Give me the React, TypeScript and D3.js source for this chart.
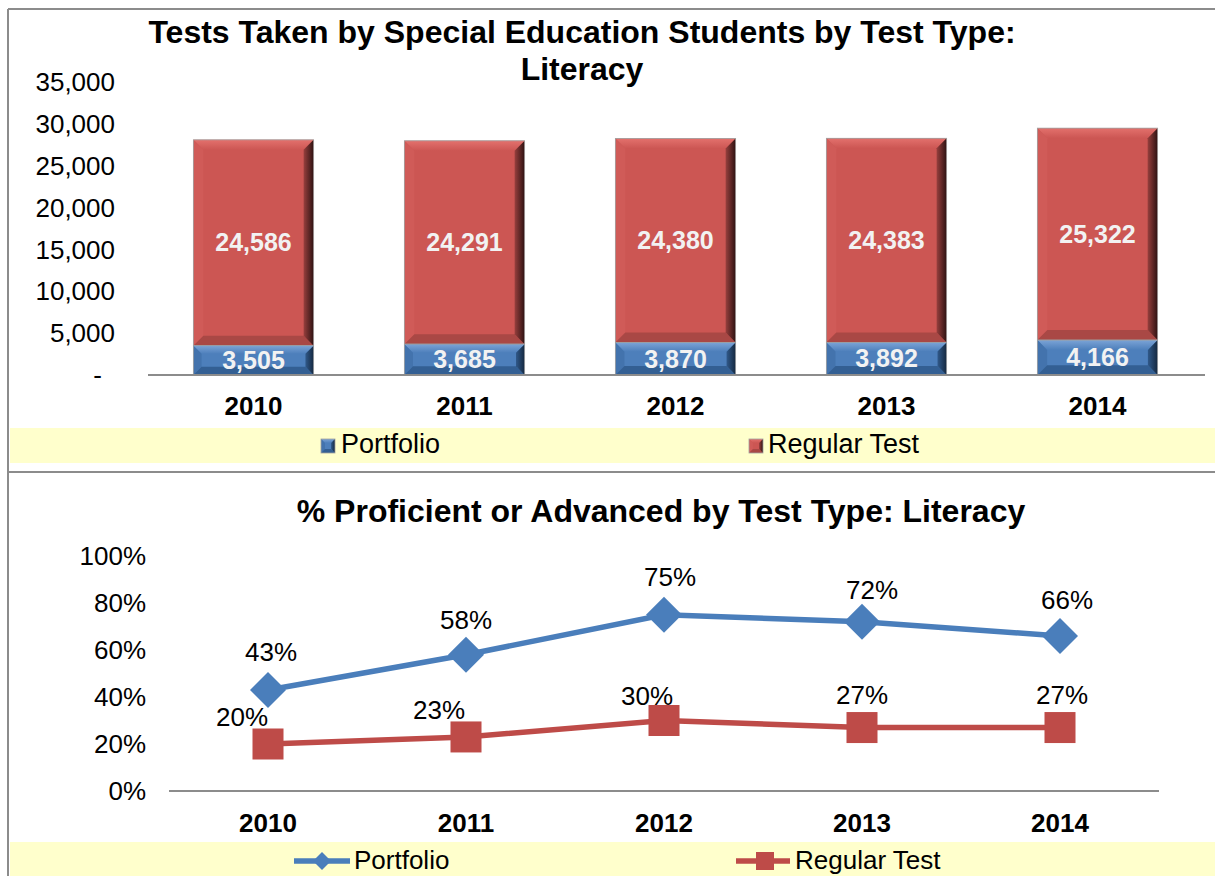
import React from 'react';
import * as d3 from 'd3';

// chart data
const years = ['2010', '2011', '2012', '2013', '2014'];
const portfolioCounts = [3505, 3685, 3870, 3892, 4166];
const regularCounts = [24586, 24291, 24380, 24383, 25322];
const countTicks = [0, 5000, 10000, 15000, 20000, 25000, 30000, 35000];

const portfolioPct = [43, 58, 75, 72, 66];
const regularPct = [20, 23, 30, 27, 27];
const pctTicks = [0, 20, 40, 60, 80, 100];

const FONT = '"Liberation Sans", Arial, sans-serif';
const GRID = '#8c8c8c';

// label nudges (px) so the percent labels sit where Excel put them
const portNudgeX = [3, 0, 6, 10, 7];
const portNudgeY = [-38, -35, -38, -32, -36];
const regNudgeX = [-26, -27, -17, 0, 2];
const regNudgeY = [-27, -27, -25, -33, -33];

const fmt = d3.format(',');

type BevelColors = { base: string; top: string; left: string; bottom: string; r1: string; r2: string };
const redBevel: BevelColors = { base: '#cc5653', top: '#e3716d', left: '#d05b58', bottom: '#a94845', r1: '#973f3d', r2: '#2e1212' };
const blueBevel: BevelColors = { base: '#4d7fbb', top: '#7ba3d6', left: '#4373ad', bottom: '#335f93', r1: '#30598a', r2: '#15283f' };

const BevelRect = ({ x, y, w, h, c, id }: { x: number; y: number; w: number; h: number; c: BevelColors; id: string }) => {
  const b = Math.min(10, h * 0.28);
  const p = (pts: number[][]) => pts.map((q) => q.join(',')).join(' ');
  return (
    <g>
      <defs>
        <linearGradient id={id} x1="0" x2="1" y1="0" y2="0">
          <stop offset="0" stopColor={c.r1} />
          <stop offset="1" stopColor={c.r2} />
        </linearGradient>
        <linearGradient id={`${id}t`} x1="0" x2="0" y1="0" y2="1">
          <stop offset="0" stopColor={c.top} />
          <stop offset="1" stopColor={c.base} />
        </linearGradient>
      </defs>
      <rect x={x} y={y} width={w} height={h} fill={c.base} />
      <polygon points={p([[x, y], [x + w, y], [x + w - b, y + b], [x + b, y + b]])} fill={`url(#${id}t)`} />
      <polygon points={p([[x, y], [x + b, y + b], [x + b, y + h - b], [x, y + h]])} fill={c.left} />
      <polygon points={p([[x, y + h], [x + w, y + h], [x + w - b, y + h - b], [x + b, y + h - b]])} fill={c.bottom} />
      <polygon points={p([[x + w, y], [x + w, y + h], [x + w - b, y + h - b], [x + w - b, y + b]])} fill={`url(#${id})`} />
      <rect x={x} y={y} width={w} height={h} fill="none" stroke="#a0a0a0" strokeWidth={0.8} />
    </g>
  );
};

const App = () => {
  // ---------- top: stacked bars ----------
  const x1 = d3.scaleBand().domain(years).range([148, 1203]).paddingInner(0.43).paddingOuter(0.215);
  const y1 = d3.scaleLinear().domain([0, 35000]).range([375, 82]);

  // ---------- bottom: lines ----------
  const x2 = d3.scaleBand().domain(years).range([169, 1159]);
  const y2 = d3.scaleLinear().domain([0, 100]).range([791, 556]);
  const cx = (yr: string) => (x2(yr) as number) + x2.bandwidth() / 2;

  const line = d3
    .line<number>()
    .x((_, i) => cx(years[i]))
    .y((d) => y2(d));

  const diamond = (x: number, y: number, r: number) =>
    `M${x},${y - r}L${x + r},${y}L${x},${y + r}L${x - r},${y}Z`;

  return (
    <svg
      width={1215}
      height={876}
      style={{ position: 'absolute', left: 0, top: 0, background: '#fff' }}
      fontFamily={FONT}
    >
      {/* frame */}
      <line x1={8} x2={1215} y1={9} y2={9} stroke={GRID} strokeWidth={2} />
      <line x1={8} x2={8} y1={9} y2={876} stroke={GRID} strokeWidth={2} />
      <line x1={8} x2={1215} y1={472} y2={472} stroke={GRID} strokeWidth={2} />

      {/* top title */}
      <text x={582} y={43} textAnchor="middle" fontWeight="bold" fontSize={32}>
        Tests Taken by Special Education Students by Test Type:
      </text>
      <text x={582} y={80} textAnchor="middle" fontWeight="bold" fontSize={32}>
        Literacy
      </text>

      {/* top y axis labels */}
      {countTicks.map((t) => (
        <text key={t} x={t === 0 ? 102 : 115} y={y1(t)} dy="0.35em" textAnchor="end" fontSize={26}>
          {t === 0 ? '-' : fmt(t)}
        </text>
      ))}

      {/* stacked bars */}
      {years.map((yr, i) => {
        const bx = x1(yr) as number;
        const bw = x1.bandwidth();
        const p0 = y1(0);
        const p1 = y1(portfolioCounts[i]);
        const r1 = y1(portfolioCounts[i] + regularCounts[i]);
        return (
          <g key={yr}>
            <BevelRect x={bx} y={r1} w={bw} h={p1 - r1} c={redBevel} id={`rg${i}`} />
            <BevelRect x={bx} y={p1} w={bw} h={p0 - p1} c={blueBevel} id={`bg${i}`} />
            <text x={bx + bw / 2} y={(r1 + p1) / 2} dy="0.35em" textAnchor="middle" fontWeight="bold" fontSize={25} fill="#f2f2f2">
              {fmt(regularCounts[i])}
            </text>
            <text x={bx + bw / 2} y={(p1 + p0) / 2} dy="0.35em" textAnchor="middle" fontWeight="bold" fontSize={25} fill="#f2f2f2">
              {fmt(portfolioCounts[i])}
            </text>
          </g>
        );
      })}

      <line x1={148} x2={1205} y1={375} y2={375} stroke={GRID} strokeWidth={2} />
      {years.map((yr) => (
        <text key={yr} x={(x1(yr) as number) + x1.bandwidth() / 2} y={415} textAnchor="middle" fontWeight="bold" fontSize={26}>
          {yr}
        </text>
      ))}

      {/* top legend */}
      <rect x={10} y={428} width={1205} height={35} fill="#ffffcc" />
      <BevelRect x={321} y={439} w={14} h={14} c={blueBevel} id="lgb" />
      <text x={341} y={453} fontSize={27}>Portfolio</text>
      <BevelRect x={749} y={439} w={14} h={14} c={redBevel} id="lgr" />
      <text x={768} y={453} fontSize={27}>Regular Test</text>

      {/* bottom title */}
      <text x={661} y={522} textAnchor="middle" fontWeight="bold" fontSize={32}>
        % Proficient or Advanced by Test Type: Literacy
      </text>

      {pctTicks.map((t) => (
        <text key={t} x={146} y={y2(t)} dy="0.35em" textAnchor="end" fontSize={26}>
          {t}%
        </text>
      ))}

      <line x1={169} x2={1159} y1={791} y2={791} stroke={GRID} strokeWidth={2} />
      {years.map((yr) => (
        <text key={yr} x={cx(yr)} y={832} textAnchor="middle" fontWeight="bold" fontSize={26}>
          {yr}
        </text>
      ))}

      {/* lines */}
      <path d={line(portfolioPct) || ''} fill="none" stroke="#4a7ebb" strokeWidth={5.5} />
      <path d={line(regularPct) || ''} fill="none" stroke="#be4b48" strokeWidth={5.5} />
      {portfolioPct.map((v, i) => (
        <path key={`pd${i}`} d={diamond(cx(years[i]), y2(v), 18)} fill="#4a7ebb" />
      ))}
      {regularPct.map((v, i) => (
        <rect key={`rs${i}`} x={cx(years[i]) - 15.5} y={y2(v) - 15.5} width={31} height={31} fill="#be4b48" />
      ))}
      {portfolioPct.map((v, i) => (
        <text key={`pl${i}`} x={cx(years[i]) + portNudgeX[i]} y={y2(v) + portNudgeY[i]} dy="0.35em" textAnchor="middle" fontSize={26}>
          {v}%
        </text>
      ))}
      {regularPct.map((v, i) => (
        <text key={`rl${i}`} x={cx(years[i]) + regNudgeX[i]} y={y2(v) + regNudgeY[i]} dy="0.35em" textAnchor="middle" fontSize={26}>
          {v}%
        </text>
      ))}

      {/* bottom legend */}
      <rect x={10} y={842} width={1205} height={40} fill="#ffffcc" />
      <line x1={294} x2={350} y1={861} y2={861} stroke="#4a7ebb" strokeWidth={5.5} />
      <path d={diamond(322, 861, 9)} fill="#4a7ebb" />
      <text x={354} y={869} fontSize={26}>Portfolio</text>
      <line x1={736} x2={790} y1={861} y2={861} stroke="#be4b48" strokeWidth={5.5} />
      <rect x={756} y={852} width={18} height={18} fill="#be4b48" />
      <text x={795} y={869} fontSize={26}>Regular Test</text>
    </svg>
  );
};

export default App;
